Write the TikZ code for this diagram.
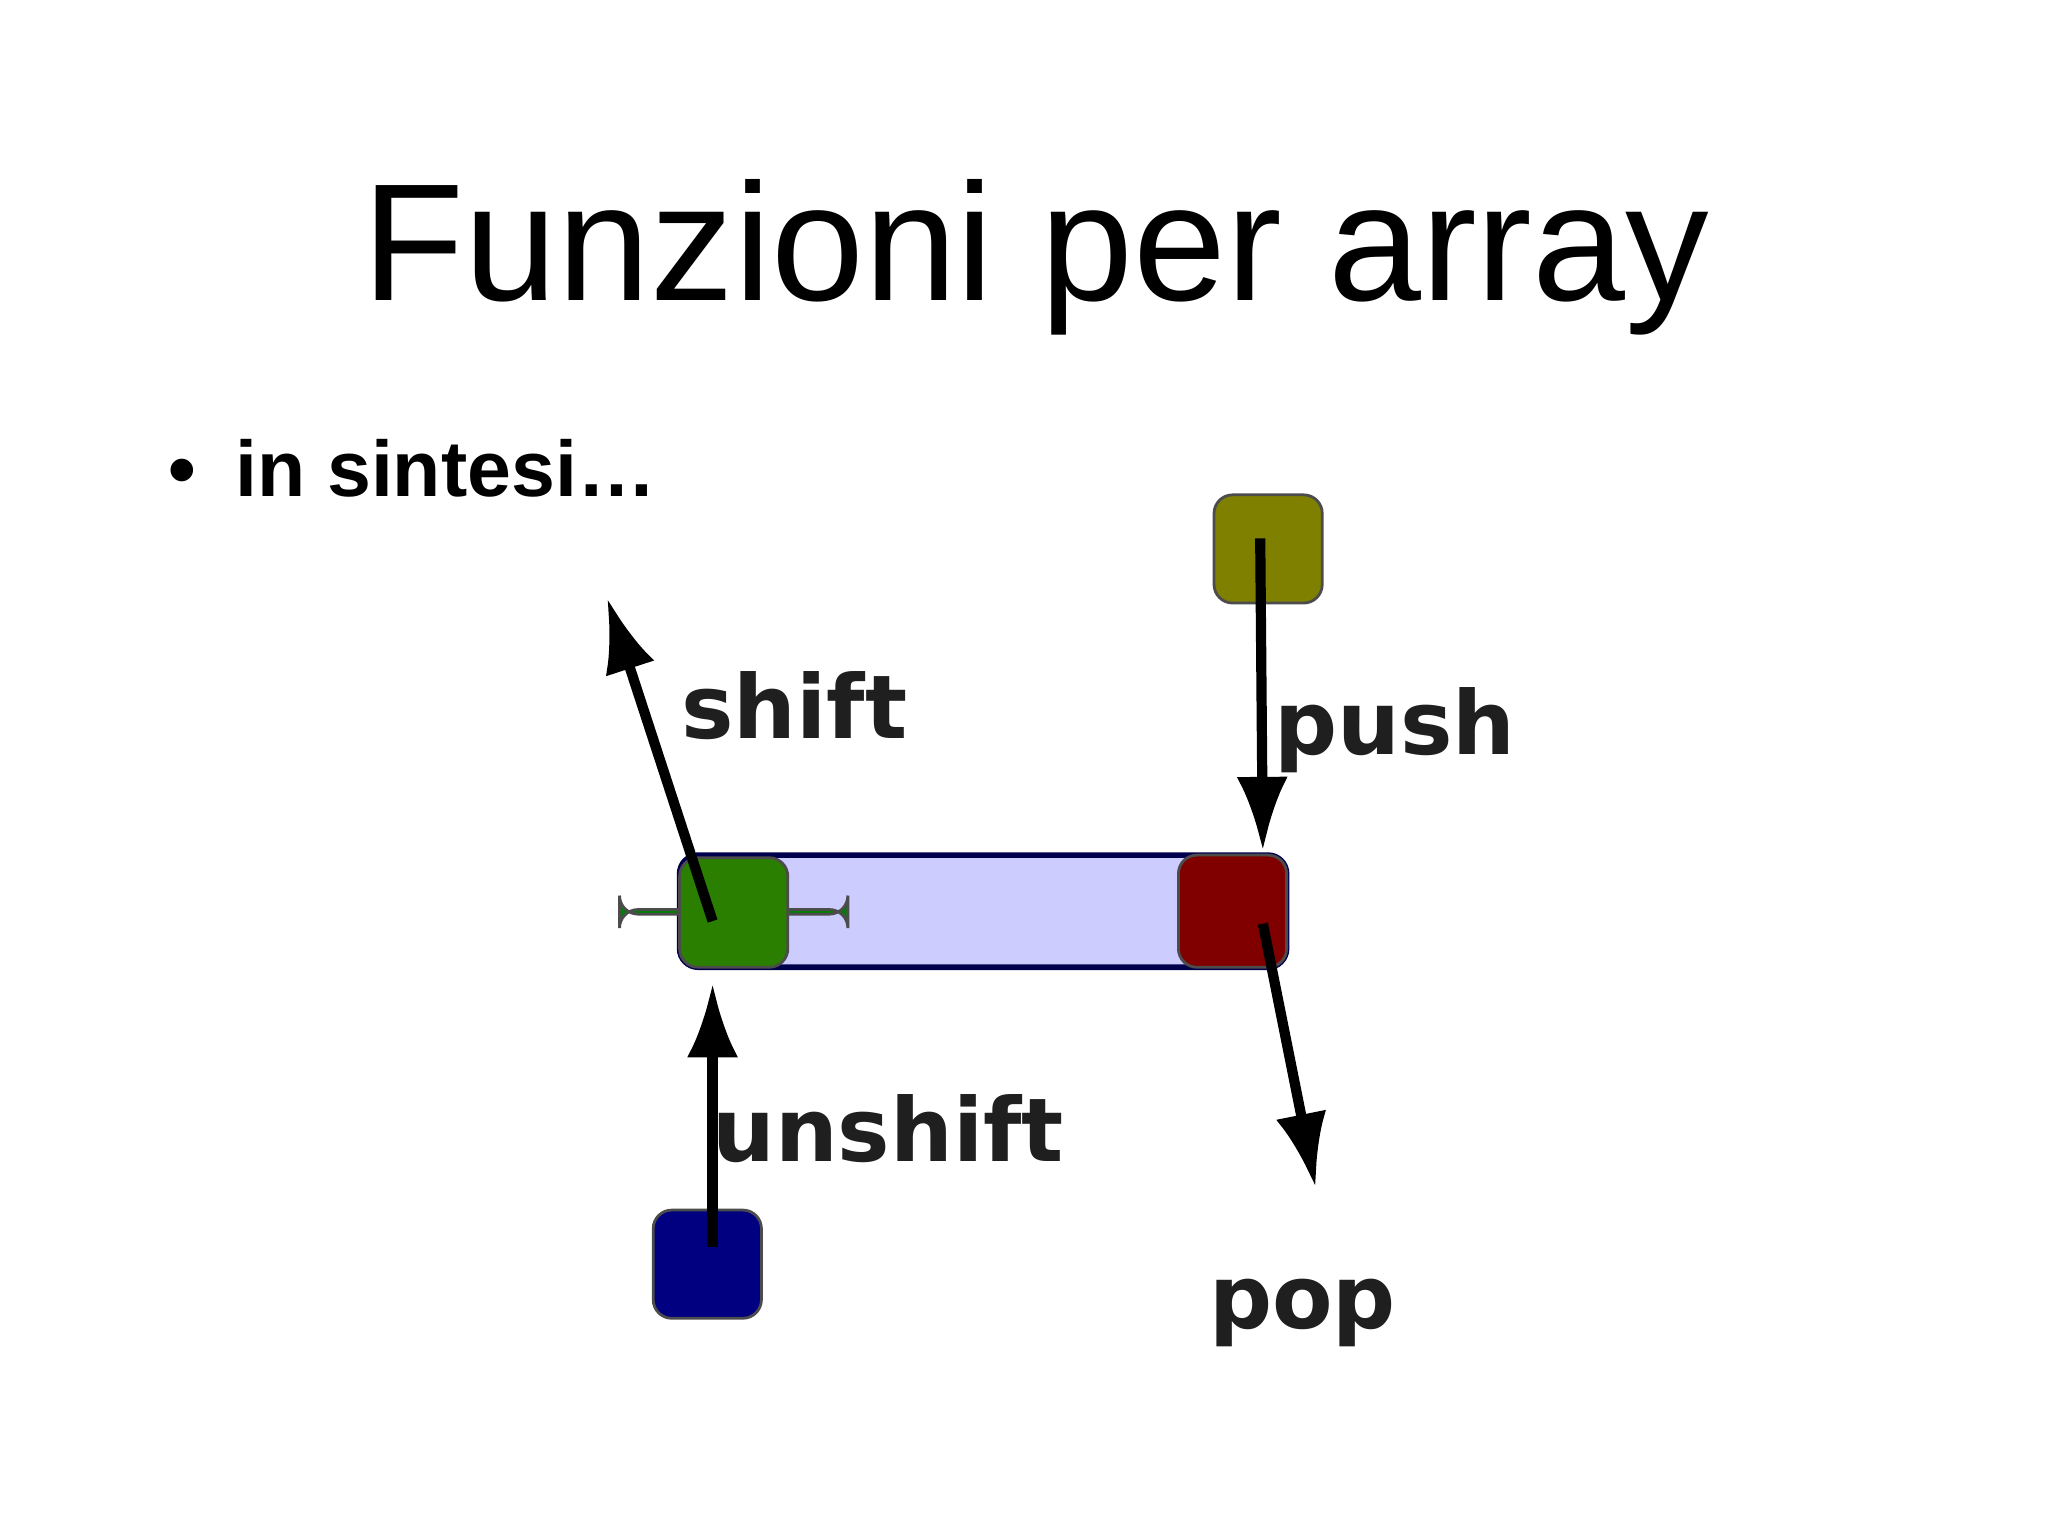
\documentclass[tikz,border=0pt]{standalone}
\usepackage{fontspec}
\setmainfont{Liberation Sans}
\newfontfamily\dvs{DejaVu Sans}
\usetikzlibrary{arrows.meta}
\begin{document}
\begin{tikzpicture}[x=0.01cm,y=-0.01cm,
  sq/.style={draw=black!70,line width=0.6pt,rounded corners=4pt},
  arr/.style={line width=2.2pt,-{Latex[length=16pt,width=11pt]}},
  lbl/.style={font=\dvs\bfseries\fontsize{19pt}{22pt}\selectfont,text=black!88}]
\useasboundingbox (0,0) rectangle (1552,1164);
\node[font=\fontsize{36pt}{40pt}\selectfont] (title) at (785,195) {Funzioni per array};
\node[anchor=west,font=\bfseries\fontsize{17pt}{20pt}\selectfont] (bul) at (115,355) {\textbullet\hspace{0.5em}in sintesi…};
\draw[sq,fill=blue!20,draw=blue!30!black,line width=1.2pt] (515,648) rectangle (975,733);
\node[sq,fill=green!50!black,minimum width=82\pgflinewidth,inner sep=0] (g) at (556,691) {};
\draw[sq,fill={rgb,255:red,42;green,127;blue,0}] (515,650) rectangle (597,733);
\coordinate (gc) at (540,698);
\draw[sq,fill={rgb,255:red,128;green,0;blue,0}] (893,648) rectangle (975,733);
\coordinate (rc) at (957,700);
\draw[sq,fill={rgb,255:red,128;green,128;blue,0}] (920,375) rectangle (1002,457);
\coordinate (oc) at (955,408);
\draw[sq,fill={rgb,255:red,0;green,0;blue,128}] (495,917) rectangle (577,999);
\coordinate (bc) at (540,945);
\coordinate (shiftend) at (460,453);
\coordinate (pushend) at (957,645);
\coordinate (unend) at (540,745);
\coordinate (popend) at (997,900);
\draw[arr] (gc) -- (shiftend);
\draw[arr] (oc) -- (pushend);
\draw[arr] (bc) -- (unend);
\draw[arr] (rc) -- (popend);
\node[lbl] (ls) at (602,535) {shift};
\node[lbl] (lp) at (1057,553) {push};
\node[lbl] (lu) at (673,855) {unshift};
\node[lbl] (lo) at (987,995) {pop};
\end{tikzpicture}
\end{document}
